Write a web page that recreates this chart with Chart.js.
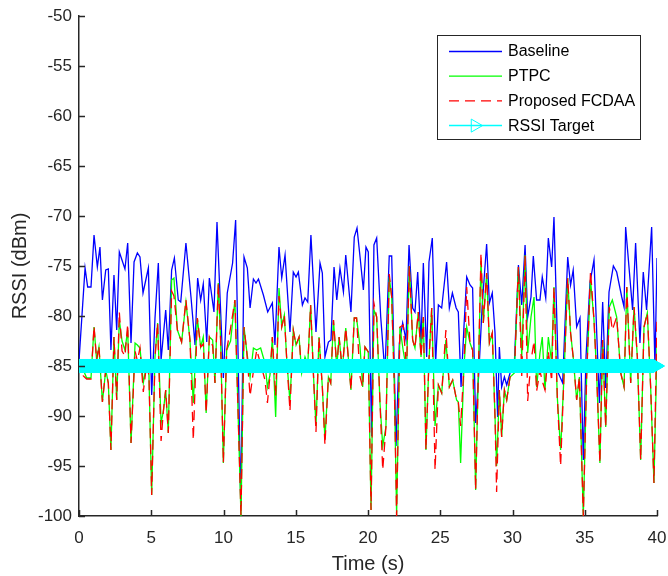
<!DOCTYPE html>
<html>
<head>
<meta charset="utf-8">
<title>RSSI over time</title>
<script src="https://cdn.jsdelivr.net/npm/chart.js@4.4.1/dist/chart.umd.min.js"></script>
<style>
  html, body { margin: 0; padding: 0; background: #fff; }
  #wrap { width: 668px; height: 576px; }
</style>
</head>
<body>
<div id="wrap"><canvas id="chart" width="668" height="576"></canvas></div>
<script>
// values (time in s, RSSI in dBm)
const baselineTime = [
  0, 0.42, 0.6, 0.83, 1.04, 1.27, 1.45, 1.62, 1.85, 2.03,
  2.21, 2.42, 2.61, 2.79, 3.18, 3.37, 3.6, 3.81, 4.04, 4.22,
  4.43, 4.8, 5.03, 5.26, 5.49, 5.68, 6.0, 6.18, 6.41, 6.6,
  6.87, 7.04, 7.4, 7.75, 8.03, 8.21, 8.42, 8.6, 8.84, 9.02,
  9.34, 9.55, 9.99, 10.26, 10.63, 10.84, 11.2, 11.42, 11.65, 11.84,
  12.07, 12.25, 12.42, 12.76, 13.06, 13.38, 13.56, 13.84, 14.03, 14.26,
  14.6, 14.83, 15.02, 15.18, 15.46, 15.64, 15.83, 16.05, 16.4, 16.68,
  16.84, 17.02, 17.26, 17.44, 17.65, 17.84, 18.06, 18.3, 18.46, 18.82,
  19.05, 19.24, 19.45, 19.68, 19.86, 20.02, 20.25, 20.41, 20.6, 20.88,
  21.17, 21.47, 21.64, 21.94, 22.17, 22.4, 22.63, 22.84, 23.09, 23.25,
  23.44, 23.67, 23.83, 24.06, 24.22, 24.45, 24.68, 24.87, 25.1, 25.44,
  25.63, 25.84, 26.1, 26.25, 26.44, 26.64, 26.83, 27.06, 27.24, 27.45,
  27.68, 27.9, 28.21, 28.4, 28.6, 28.79, 28.97, 29.09, 29.25, 29.44,
  29.6, 29.83, 30.13, 30.41, 30.64, 30.87, 31.05, 31.28, 31.44, 31.67,
  31.9, 32.06, 32.3, 32.48, 32.71, 32.87, 33.17, 33.47, 33.82, 34.02,
  34.2, 34.44, 34.67, 34.9, 35.09, 35.36, 35.64, 36.01, 36.24, 36.45,
  36.68, 36.98, 37.21, 37.56, 37.72, 37.83, 38.31, 38.52, 38.82, 39.05,
  39.28, 39.63, 39.86, 40
];
const baselineRssi = [
  -84.5, -75.2, -77.1, -77.1, -71.9, -75.1, -73.1, -78.4, -75.4, -75.3,
  -83.4, -75.9, -81.4, -73.6, -75.3, -72.7, -82.7, -74.6, -73.7, -74.1,
  -77.7, -75.2, -87.9, -80.2, -74.7, -84.4, -79.4, -83.4, -75.4, -74.2,
  -78.4, -78.6, -72.7, -78.1, -82.9, -76.2, -78.4, -76.8, -82.6, -76.2,
  -79.6, -70.6, -86.2, -77.7, -74.7, -70.4, -99.0, -74.1, -75.2, -79.2,
  -76.3, -76.7, -76.3, -77.9, -79.6, -78.7, -82.9, -73.1, -76.2, -73.9,
  -81.6, -75.6, -76.1, -75.6, -78.9, -78.2, -78.6, -71.9, -81.6, -74.7,
  -75.7, -84.1, -82.6, -82.4, -75.1, -78.4, -75.2, -77.6, -73.9, -79.6,
  -72.1, -71.2, -74.1, -77.4, -73.1, -73.6, -92.0, -72.9, -72.2, -80.1,
  -85.7, -74.0, -74.0, -93.0, -82.7, -80.7, -82.4, -72.9, -79.2, -79.6,
  -75.6, -82.7, -74.7, -84.1, -74.6, -72.2, -84.7, -78.9, -79.2, -74.6,
  -79.2, -77.7, -79.2, -79.6, -87.1, -81.1, -76.1, -76.9, -77.2, -90.7,
  -85.4, -79.0, -72.8, -78.7, -77.7, -81.7, -90.1, -83.1, -87.1, -86.1,
  -86.9, -85.7, -84.7, -74.9, -78.9, -72.9, -80.1, -78.1, -74.0, -78.4,
  -78.4, -76.1, -78.2, -72.2, -75.1, -70.1, -85.7, -86.7, -74.1, -76.9,
  -75.4, -81.1, -80.2, -94.4, -84.0, -76.7, -74.4, -88.7, -78.6, -87.2,
  -77.6, -75.0, -75.6, -78.1, -79.1, -71.1, -79.4, -72.7, -82.7, -75.6,
  -79.4, -71.1, -85.1, -74.2
];

// PTPC and FCDAA share the same sample times
const ptpcTime = [
  0, 0.3, 0.53, 0.83, 1.04, 1.22, 1.38, 1.62, 1.85, 2.03,
  2.21, 2.42, 2.61, 2.79, 2.98, 3.18, 3.37, 3.6, 3.88, 4.04,
  4.22, 4.45, 4.68, 4.84, 5.03, 5.26, 5.44, 5.68, 5.84, 6.0,
  6.18, 6.41, 6.57, 6.81, 7.1, 7.4, 7.68, 7.91, 8.19, 8.42,
  8.6, 8.8, 9.02, 9.25, 9.41, 9.64, 9.8, 9.99, 10.22, 10.49,
  10.79, 11.21, 11.42, 11.6, 11.84, 12.07, 12.3, 12.57, 12.87, 13.04,
  13.22, 13.38, 13.61, 13.84, 14.03, 14.21, 14.37, 14.6, 14.83, 15.02,
  15.23, 15.41, 15.64, 15.83, 16.03, 16.22, 16.4, 16.61, 16.84, 17.02,
  17.26, 17.42, 17.61, 17.84, 18.0, 18.22, 18.46, 18.64, 18.82, 19.05,
  19.21, 19.45, 19.63, 19.79, 20.02, 20.21, 20.41, 20.6, 20.83, 21.02,
  21.24, 21.47, 21.64, 21.82, 21.98, 22.21, 22.44, 22.67, 22.86, 23.09,
  23.25, 23.48, 23.67, 23.83, 24.01, 24.22, 24.41, 24.64, 24.87, 25.1,
  25.39, 25.63, 25.86, 26.13, 26.25, 26.41, 26.64, 26.83, 27.06, 27.24,
  27.45, 27.64, 27.82, 27.98, 28.21, 28.4, 28.6, 28.79, 28.9, 29.09,
  29.25, 29.44, 29.6, 29.83, 30.13, 30.41, 30.64, 30.87, 31.05, 31.28,
  31.49, 31.67, 31.9, 32.06, 32.25, 32.48, 32.71, 32.87, 33.1, 33.33,
  33.56, 33.82, 34.02, 34.2, 34.44, 34.63, 34.9, 35.13, 35.4, 35.64,
  35.82, 36.05, 36.24, 36.45, 36.7, 36.91, 37.21, 37.49, 37.72, 37.91,
  38.18, 38.41, 38.64, 38.87, 39.1, 39.33, 39.56, 39.79, 40
];
const ptpcRssi = [
  -84.4, -85.4, -86.2, -86.2, -81.1, -84.4, -83.1, -88.6, -85.4, -86.7,
  -93.4, -82.1, -88.4, -80.4, -82.5, -83.4, -81.4, -92.7, -82.7, -82.9,
  -83.2, -86.7, -84.8, -85.9, -97.9, -84.1, -80.7, -90.7, -89.5, -87.4,
  -91.7, -76.4, -76.2, -81.4, -82.6, -78.6, -82.4, -88.7, -80.2, -83.1,
  -82.1, -89.7, -82.1, -82.4, -86.7, -76.7, -82.4, -94.7, -83.4, -82.5,
  -78.4, -100, -81.1, -83.4, -86.1, -83.2, -83.4, -83.2, -84.7, -87.1,
  -85.9, -82.1, -90.1, -77.2, -81.1, -79.9, -84.2, -88.6, -81.4, -82.9,
  -82.1, -85.7, -84.1, -84.9, -78.9, -85.7, -91.0, -82.1, -87.1, -92.3,
  -86.1, -86.7, -80.4, -85.1, -82.1, -85.4, -81.2, -84.2, -87.4, -80.2,
  -80.2, -83.1, -87.1, -83.1, -83.6, -99.4, -79.4, -80.1, -88.7, -93.0,
  -91.1, -76.1, -78.1, -86.7, -99.9, -81.1, -83.5, -85.4, -75.0, -82.4,
  -83.2, -79.6, -84.1, -80.1, -93.4, -84.4, -79.2, -91.0, -86.9, -87.7,
  -82.4, -87.1, -86.4, -88.4, -88.6, -94.7, -85.1, -81.1, -82.7, -83.4,
  -97.4, -85.4, -74.5, -80.7, -75.7, -82.7, -81.7, -90.1, -95.0, -87.4,
  -92.1, -87.4, -88.4, -86.1, -85.7, -75.1, -84.1, -73.9, -83.7, -80.1,
  -78.1, -87.1, -83.7, -82.1, -87.4, -82.1, -84.6, -77.1, -88.1, -93.4,
  -86.1, -76.2, -81.7, -84.1, -88.4, -86.1, -100, -86.1, -76.4, -80.4,
  -85.7, -94.7, -82.4, -91.1, -79.1, -78.4, -80.1, -85.7, -87.1, -77.1,
  -86.7, -79.1, -84.1, -94.4, -81.1, -79.7, -87.1, -96.7, -83.1
];
const fcdaaRssi = [
  -84.4, -86.0, -86.3, -86.3, -81.0, -84.4, -83.0, -88.6, -85.4, -86.7,
  -93.4, -82.1, -88.4, -79.6, -83.5, -84.0, -80.8, -92.7, -83.5, -84.5,
  -83.2, -87.6, -84.8, -85.9, -97.9, -84.1, -80.7, -92.5, -89.5, -87.4,
  -91.7, -77.5, -78.0, -81.4, -82.6, -78.4, -82.4, -92.4, -80.2, -83.1,
  -82.8, -89.7, -82.1, -83.0, -86.7, -76.7, -82.4, -94.7, -83.4, -81.2,
  -78.4, -100, -81.1, -83.4, -88.0, -85.5, -83.4, -84.8, -86.4, -88.7,
  -85.9, -82.1, -88.0, -78.0, -81.1, -79.9, -84.2, -89.5, -81.4, -82.9,
  -82.1, -85.7, -84.1, -84.9, -78.9, -85.7, -91.6, -82.1, -87.1, -92.9,
  -86.1, -86.7, -80.4, -85.1, -82.1, -85.4, -81.2, -84.2, -87.4, -80.2,
  -80.2, -86.1, -87.1, -83.1, -83.6, -99.4, -78.7, -80.1, -88.7, -95.4,
  -91.1, -75.8, -78.1, -86.7, -100, -81.1, -80.9, -85.4, -75.0, -82.4,
  -83.2, -79.6, -84.1, -80.1, -93.4, -84.4, -79.2, -95.4, -86.9, -87.7,
  -81.4, -87.1, -86.4, -88.4, -88.6, -91.0, -85.1, -77.1, -82.7, -83.4,
  -97.4, -85.4, -73.7, -80.7, -75.7, -82.7, -81.7, -90.1, -97.6, -87.4,
  -92.1, -87.4, -88.4, -86.1, -85.7, -75.1, -86.0, -73.9, -88.5, -84.5,
  -82.5, -87.5, -85.5, -86.5, -87.4, -83.5, -86.5, -77.1, -88.1, -95.0,
  -86.1, -76.2, -81.7, -84.1, -88.4, -86.1, -100, -86.1, -75.5, -80.4,
  -85.7, -94.7, -82.4, -91.1, -79.1, -81.4, -80.1, -85.7, -87.1, -77.1,
  -86.7, -79.1, -84.1, -94.4, -81.1, -79.7, -87.1, -96.7, -80.2
];

const targetRssi = -85;      // constant target level
const targetStep = 0.02;     // marker spacing along the target line (s)

const seriesNames = ['Baseline', 'PTPC', 'Proposed FCDAA', 'RSSI Target'];
const xLimits = [0, 40];
const yLimits = [-100, -50];
const tickStep = 5;

const axisColor = '#262626';
const fontFamily = "'Liberation Sans', Arial, Helvetica, sans-serif";

function toPoints(times, values) {
  return times.map((t, i) => ({ x: t, y: values[i] }));
}

const targetPoints = [];
for (let t = xLimits[0]; t <= xLimits[1] + 1e-9; t += targetStep) {
  targetPoints.push({ x: +t.toFixed(2), y: targetRssi });
}

// MATLAB-style ticks pointing into the axes
const innerTicks = {
  id: 'innerTicks',
  afterDatasetsDraw(chart) {
    const { ctx, chartArea, scales } = chart;
    ctx.save();
    ctx.strokeStyle = axisColor;
    ctx.lineWidth = 1.5;
    ctx.beginPath();
    scales.x.ticks.forEach(tk => {
      const px = Math.round(scales.x.getPixelForValue(tk.value)) + 0.5;
      ctx.moveTo(px, chartArea.bottom);
      ctx.lineTo(px, chartArea.bottom - 6);
    });
    scales.y.ticks.forEach(tk => {
      const py = Math.round(scales.y.getPixelForValue(tk.value)) + 0.5;
      ctx.moveTo(chartArea.left, py);
      ctx.lineTo(chartArea.left + 6, py);
    });
    ctx.stroke();
    ctx.restore();
  }
};

// boxed legend in the upper right of the axes
const boxLegend = {
  id: 'boxLegend',
  afterDraw(chart) {
    const ctx = chart.ctx;
    const bx = 437.5, by = 35.5, bw = 203, bh = 104;
    ctx.save();
    ctx.fillStyle = '#ffffff';
    ctx.fillRect(bx, by, bw, bh);
    ctx.strokeStyle = axisColor;
    ctx.lineWidth = 1;
    ctx.strokeRect(bx, by, bw, bh);
    ctx.font = '16px ' + fontFamily;
    ctx.textBaseline = 'middle';
    ctx.textAlign = 'left';
    chart.data.datasets.forEach((ds, i) => {
      const y = 51.5 + i * 24.7;
      ctx.strokeStyle = ds.borderColor;
      ctx.lineWidth = ds.borderWidth;
      ctx.setLineDash(ds.borderDash || []);
      ctx.beginPath();
      ctx.moveTo(449, y);
      ctx.lineTo(502, y);
      ctx.stroke();
      ctx.setLineDash([]);
      if (ds.pointRadius) {
        ctx.fillStyle = 'rgba(0,0,0,0)';
        ctx.strokeStyle = ds.pointBorderColor;
        ctx.lineWidth = ds.pointBorderWidth;
        Chart.helpers.drawPoint(ctx, {
          pointStyle: ds.pointStyle,
          rotation: ds.rotation,
          radius: ds.pointRadius,
          borderWidth: ds.pointBorderWidth
        }, 475, y);
      }
      ctx.fillStyle = '#000000';
      ctx.fillText(ds.label, 508, y + 0.5);
    });
    ctx.restore();
  }
};

const ctx = document.getElementById('chart').getContext('2d');
new Chart(ctx, {
  type: 'line',
  data: {
    datasets: [
      {
        label: seriesNames[0],
        data: toPoints(baselineTime, baselineRssi),
        borderColor: '#0000ff',
        borderWidth: 1.3,
        pointRadius: 0,
        order: 3
      },
      {
        label: seriesNames[1],
        data: toPoints(ptpcTime, ptpcRssi),
        borderColor: '#00ff00',
        borderWidth: 1.3,
        pointRadius: 0,
        order: 2
      },
      {
        label: seriesNames[2],
        data: toPoints(ptpcTime, fcdaaRssi),
        borderColor: '#ff0000',
        borderWidth: 1.3,
        borderDash: [10, 6],
        pointRadius: 0,
        order: 1
      },
      {
        label: seriesNames[3],
        data: targetPoints,
        borderColor: '#00ffff',
        borderWidth: 1.5,
        pointStyle: 'triangle',
        rotation: 90,
        pointRadius: 7.5,
        pointBorderWidth: 1,
        pointBorderColor: '#00ffff',
        pointBackgroundColor: 'rgba(0,0,0,0)',
        clip: { left: 0, top: 0, right: 12, bottom: 0 },
        order: 0
      }
    ]
  },
  options: {
    responsive: false,
    animation: false,
    devicePixelRatio: 1,
    parsing: true,
    normalized: true,
    layout: { padding: { left: 0, right: 11, top: 16, bottom: 0 } },
    plugins: {
      legend: { display: false },
      tooltip: { enabled: false }
    },
    scales: {
      x: {
        type: 'linear',
        min: xLimits[0],
        max: xLimits[1],
        afterFit: s => { s.height = 60; s.paddingLeft = 0; s.paddingRight = 0; },
        grid: { display: true, drawOnChartArea: false, drawTicks: false },
        border: { display: true, color: axisColor, width: 1.5 },
        ticks: {
          stepSize: tickStep,
          color: axisColor,
          padding: 12,
          maxRotation: 0,
          font: { family: fontFamily, size: 17 }
        },
        title: {
          display: true,
          text: 'Time (s)',
          color: axisColor,
          padding: { top: 0, bottom: 0 },
          font: { family: fontFamily, size: 20 }
        }
      },
      y: {
        type: 'linear',
        min: yLimits[0],
        max: yLimits[1],
        afterFit: s => { s.width = 79; s.paddingTop = 0; s.paddingBottom = 0; },
        grid: { display: true, drawOnChartArea: false, drawTicks: false },
        border: { display: true, color: axisColor, width: 1.5 },
        ticks: {
          stepSize: tickStep,
          color: axisColor,
          padding: 7,
          font: { family: fontFamily, size: 17 }
        },
        title: {
          display: true,
          text: 'RSSI (dBm)',
          color: axisColor,
          padding: { top: 8, bottom: 0 },
          font: { family: fontFamily, size: 20 }
        }
      }
    }
  },
  plugins: [innerTicks, boxLegend]
});
</script>
</body>
</html>
